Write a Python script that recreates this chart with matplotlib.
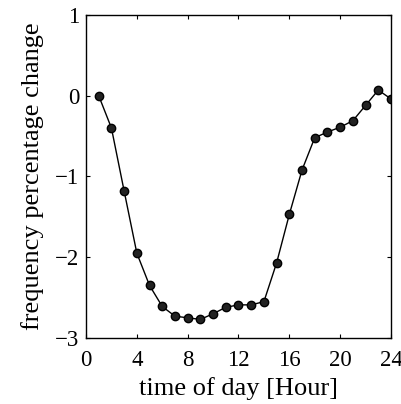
import matplotlib
matplotlib.use("Agg")
import matplotlib.pyplot as plt

hours = list(range(1, 25))
change = [0.0, -0.40, -1.18, -1.95, -2.35, -2.61, -2.73, -2.75, -2.77, -2.70,
          -2.62, -2.59, -2.59, -2.55, -2.07, -1.47, -0.92, -0.52, -0.45, -0.39,
          -0.31, -0.12, 0.07, -0.04]
xticks = [0, 4, 8, 12, 16, 20, 24]
yticks = [-3, -2, -1, 0, 1]

plt.rcParams['font.family'] = ['Liberation Serif', 'DejaVu Serif']
plt.rcParams['axes.unicode_minus'] = True

fig = plt.figure(figsize=(4.01, 4.04), dpi=100)
ax = fig.add_axes([0.2145, 0.1634, 0.7605, 0.7996])
ax.plot(hours, change, color='black', lw=1.0, marker='o', ms=6,
        markerfacecolor='#222222', markeredgecolor='black')
ax.set_xlim(0, 24)
ax.set_ylim(-3, 1)
ax.set_xticks(xticks)
ax.set_yticks(yticks)
ax.tick_params(direction='in', top=True, right=True, labelsize=16.5, length=3)
ax.tick_params(axis='x', pad=9)
ax.tick_params(axis='y', pad=5)
ax.set_xlabel('time of day [Hour]', fontsize=19, labelpad=4)
ax.set_ylabel('frequency percentage change', fontsize=19, labelpad=8)
for s in ax.spines.values():
    s.set_linewidth(1.0)
fig.savefig('out.png', dpi=100)
